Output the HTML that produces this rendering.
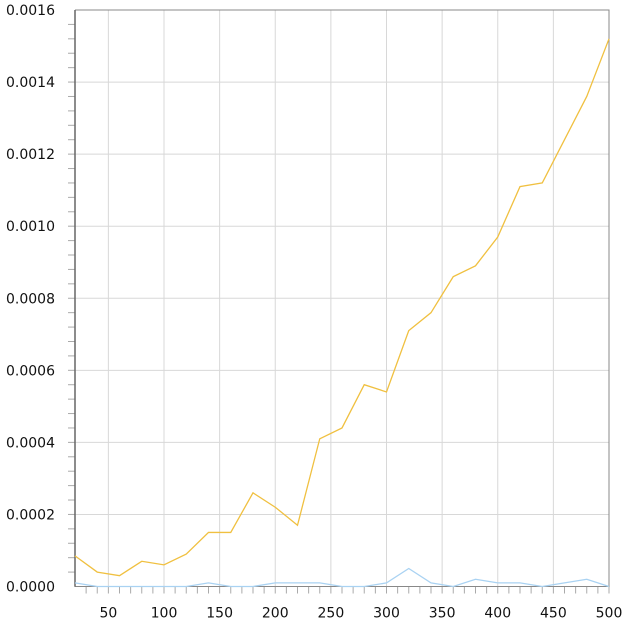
<!DOCTYPE html>
<html><head><meta charset="utf-8"><style>
body{margin:0;background:#fff;font-family:"DejaVu Sans","Liberation Sans",sans-serif}
svg text{font-size:14px;fill:#111;font-family:"DejaVu Sans","Liberation Sans",sans-serif}
</style></head><body>
<svg id="c" width="627" height="621"></svg>
<script>
const xs=[20,40,60,80,100,120,140,160,180,200,220,240,260,280,300,320,340,360,380,400,420,440,460,480,500];
const yellowVals=[0.000085,0.00004,0.00003,0.00007,0.00006,0.00009,0.00015,0.00015,0.00026,0.00022,0.00017,0.00041,0.00044,0.00056,0.00054,0.00071,0.00076,0.00086,0.00089,0.00097,0.00111,0.00112,0.00124,0.00136,0.00152];
const blueVals=[0.00001,0,0,0,0,0,0.00001,0,0,0.00001,0.00001,0.00001,0,0,0.00001,0.00005,0.00001,0,0.00002,0.00001,0.00001,0,0.00001,0.00002,0];
const xTicks=[50,100,150,200,250,300,350,400,450,500];
const yTicks=[0,0.0002,0.0004,0.0006,0.0008,0.001,0.0012,0.0014,0.0016];
const yLabels=["0.0000","0.0002","0.0004","0.0006","0.0008","0.0010","0.0012","0.0014","0.0016"];
const L=75,R=609,T=10,B=586.5,xmin=20,xmax=500,ymax=0.0016;
const X=v=>L+(v-xmin)/(xmax-xmin)*(R-L);
const Y=v=>B-v/ymax*(B-T);
const svg=document.getElementById('c');const NS='http://www.w3.org/2000/svg';
function mk(t,a,p){const e=document.createElementNS(NS,t);for(const k in a)e.setAttribute(k,a[k]);(p||svg).appendChild(e);return e;}
yTicks.forEach((v,i)=>{
 const g=mk('line',{x1:L,x2:R,y1:Y(v),y2:Y(v),stroke:'#d8d8d8'});
 
 
 const t=mk('text',{x:L-20,y:Y(v)+5,'text-anchor':'end'});t.textContent=yLabels[i];
 
 
});
for(let v=0.00004;v<ymax-1e-9;v+=0.00004){const m=mk('line',{x1:L-7,x2:L,y1:Y(v),y2:Y(v),stroke:'#aaa'});
 
 }
xTicks.forEach(v=>{
 const g=mk('line',{x1:X(v),x2:X(v),y1:T,y2:B,stroke:'#d8d8d8'});
 
 
 const t=mk('text',{x:X(v),y:B+31,'text-anchor':'middle'});t.textContent=v;
 
 
});
for(let v=30;v<=500;v+=10){const m=mk('line',{x1:X(v),x2:X(v),y1:B,y2:B+7,stroke:'#aaa'});
 
 }
const ax=mk('path',{d:`M${L},${T}V${B}H${R}V${T}H${L}`,fill:'none',stroke:'#888'});


const ax2=mk('line',{x1:L,x2:L,y1:T,y2:B,stroke:'#666','stroke-width':1.5});


const b=mk('polyline',{points:xs.map((x,i)=>X(x)+','+Y(blueVals[i])).join(' '),fill:'none',stroke:'#a9d2f2','stroke-width':1.3});


const y=mk('polyline',{points:xs.map((x,i)=>X(x)+','+Y(yellowVals[i])).join(' '),fill:'none',stroke:'#f0c040','stroke-width':1.3});


</script>
</body></html>
